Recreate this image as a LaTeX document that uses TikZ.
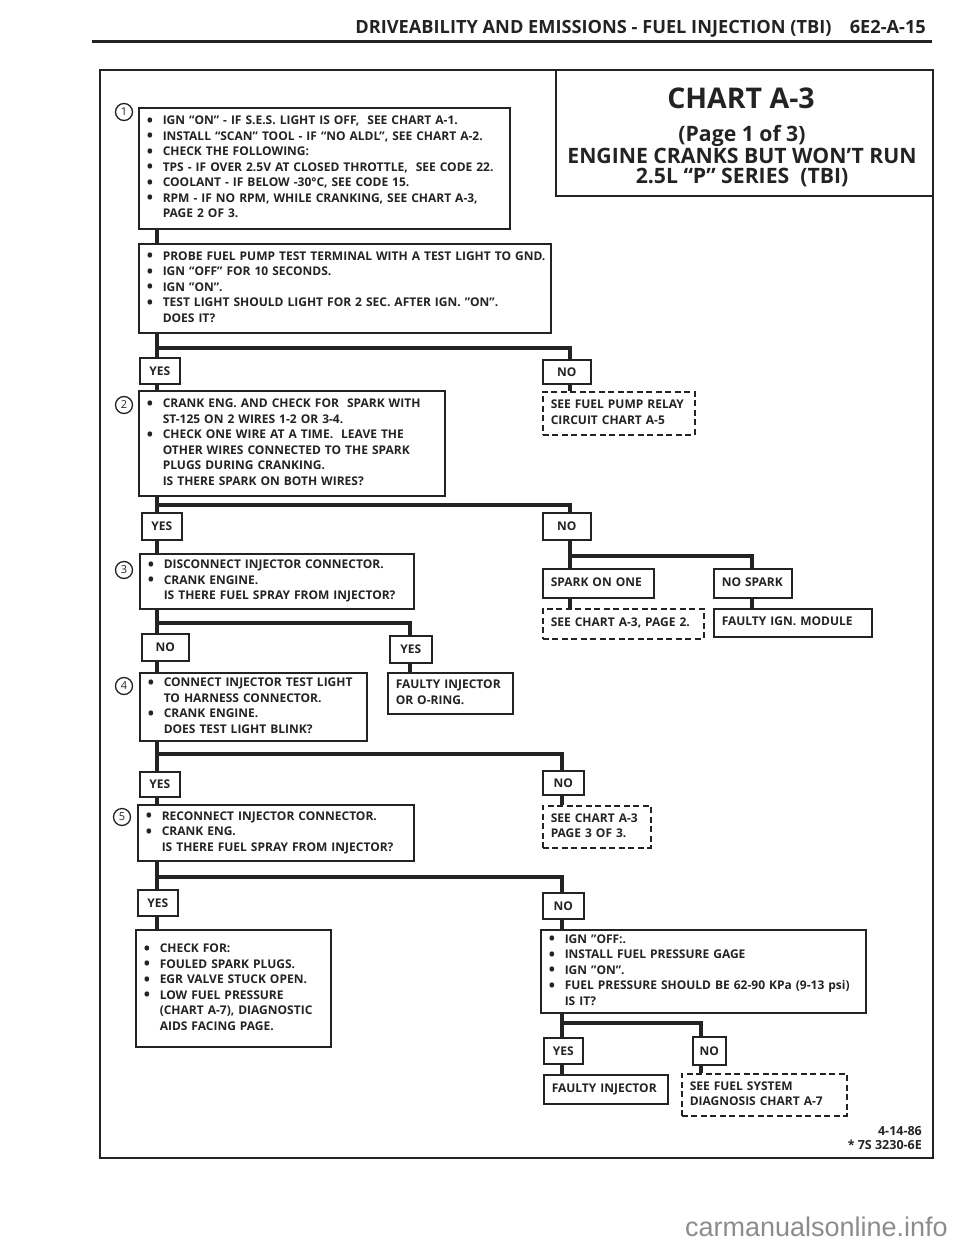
\documentclass[tikz,border=0pt]{standalone}
\usepackage{fontspec}
\setmainfont{Open Sans}
\newfontfamily\markfont{Liberation Sans}
\usetikzlibrary{positioning}
\definecolor{ink}{HTML}{232323}
\definecolor{mark}{HTML}{8C8C8C}
\newcommand{\boxfont}{\fontsize{12}{15.5}\selectfont\bfseries}
\newcommand{\itemdot}{\makebox[16pt][l]{\raisebox{-1.4pt}{\fontsize{16.5}{0}\selectfont\textbullet}}}
\newcommand{\itemgap}{\hspace*{16pt}}
\newcommand{\rows}[1]{\begin{tabular}{@{}l@{}}#1\end{tabular}}

\begin{document}
\begin{tikzpicture}[x=1pt, y=-1pt, color=ink,
  box/.style={draw, line width=1.5pt, anchor=north west, inner xsep=8pt,
              inner ysep=1pt, align=left, font=\boxfont},
  ref/.style={box, dash pattern=on 6pt off 3.5pt},
  tag/.style={draw, line width=1.5pt, anchor=north west, inner sep=0pt,
              font=\boxfont},
  num/.style={draw, circle, line width=1.3pt, inner sep=0pt,
              minimum size=17pt, font=\fontsize{11}{11}\selectfont},
  wire/.style={line width=4pt}
]
  \useasboundingbox (0,0) rectangle (960,1242);

  % Page header
  \node[anchor=east, inner sep=0pt, font=\fontsize{18.2}{18}\selectfont\bfseries] (head) at (926,29)
    {DRIVEABILITY AND EMISSIONS - FUEL INJECTION (TBI)\quad 6E2-A-15};
  \draw[line width=3pt] (92,41) -- (932,41);

  % Frame and title block
  \draw[line width=2.6pt] (100,70) rectangle (933,1158);
  \draw[line width=1.6pt] (556,70) |- (933,196);
  \node[inner sep=0pt, font=\fontsize{28.5}{28}\selectfont\bfseries] (chart) at (741,98) {CHART A-3};
  \node[inner sep=0pt, align=center, font=\fontsize{21.2}{20}\selectfont\bfseries] (subtitle) at (742,156)
    {(Page 1 of 3)\\ENGINE CRANKS BUT WON’T RUN\\2.5L “P” SERIES\ \ (TBI)};

  % Columns and branch levels
  \coordinate (colA) at (157,0);
  \coordinate (colB) at (570,0);
  \coordinate (colC) at (562,0);
  \coordinate (colD) at (410,0);
  \coordinate (colE) at (752,0);
  \coordinate (colF) at (701,0);
  \coordinate (bar1) at (0,348);
  \coordinate (bar2) at (0,505);
  \coordinate (bar3) at (0,556);
  \coordinate (bar4) at (0,623);
  \coordinate (bar5) at (0,754);
  \coordinate (bar6) at (0,877);
  \coordinate (bar7) at (0,1023);

  % Step 1
  \node[num] (n1) at (124,112) {1};
  \node[box, minimum width=371pt, minimum height=121pt, text width=355pt] (ign1) at (138,107)
    {\rows{\itemdot IGN “ON” - IF S.E.S. LIGHT IS OFF, \ SEE CHART A-1.\\
     \itemdot INSTALL “SCAN” TOOL - IF “NO ALDL”, SEE CHART A-2.\\
     \itemdot CHECK THE FOLLOWING:\\
     \itemdot TPS - IF OVER 2.5V AT CLOSED THROTTLE, \ SEE CODE 22.\\
     \itemdot COOLANT - IF BELOW -30°C, SEE CODE 15.\\
     \itemdot RPM - IF NO RPM, WHILE CRANKING, SEE CHART A-3,\\
     \itemgap PAGE 2 OF 3.}};
  \node[box, minimum width=412pt, minimum height=89pt, text width=396pt] (pump) at (138,243)
    {\rows{\itemdot PROBE FUEL PUMP TEST TERMINAL WITH A TEST LIGHT TO GND.\\
     \itemdot IGN “OFF” FOR 10 SECONDS.\\
     \itemdot IGN ”ON”.\\
     \itemdot TEST LIGHT SHOULD LIGHT FOR 2 SEC. AFTER IGN. ”ON”.\\
     \itemgap DOES IT?}};
  \node[tag, minimum width=40pt, minimum height=26pt] (yes1) at (139,357) {YES};
  \node[tag, minimum width=48pt, minimum height=24pt] (no1) at (542,359) {NO};
  \node[ref, minimum width=152pt, minimum height=43pt, text width=136pt] (relay) at (542,391)
    {\rows{SEE FUEL PUMP RELAY\\CIRCUIT CHART A-5}};

  \draw[wire] (ign1.south -| colA) -- (pump.north -| colA);
  \draw[wire] (pump.south -| colA) -- (yes1.north -| colA);
  \draw[wire] (bar1 -| colA) -| (no1.north -| colB);
  \draw[wire] (no1.south -| colB) -- (relay.north -| colB);

  % Step 2
  \node[num] (n2) at (124,405) {2};
  \node[box, minimum width=306pt, minimum height=105pt, text width=290pt] (spark) at (138,390)
    {\rows{\itemdot CRANK ENG. AND CHECK FOR \ SPARK WITH\\
     \itemgap ST-125 ON 2 WIRES 1-2 OR 3-4.\\
     \itemdot CHECK ONE WIRE AT A TIME. \ LEAVE THE\\
     \itemgap OTHER WIRES CONNECTED TO THE SPARK\\
     \itemgap PLUGS DURING CRANKING.\\
     \itemgap IS THERE SPARK ON BOTH WIRES?}};
  \node[tag, minimum width=40pt, minimum height=27pt] (yes2) at (141,512) {YES};
  \node[tag, minimum width=48pt, minimum height=27pt] (no2) at (542,512) {NO};
  \node[box, minimum width=111pt, minimum height=29pt, text width=95pt] (onespark) at (542,568)
    {\rows{SPARK ON ONE}};
  \node[box, minimum width=78pt, minimum height=29pt, text width=62pt] (nospark) at (713,568)
    {\rows{NO SPARK}};
  \node[ref, minimum width=161pt, minimum height=30pt, text width=145pt] (page2) at (542,608)
    {\rows{SEE CHART A-3, PAGE 2.}};
  \node[box, minimum width=158pt, minimum height=28pt, text width=142pt] (module) at (713,608)
    {\rows{FAULTY IGN. MODULE}};

  \draw[wire] (yes1.south -| colA) -- (spark.north -| colA);
  \draw[wire] (spark.south -| colA) -- (yes2.north -| colA);
  \draw[wire] (bar2 -| colA) -| (no2.north -| colB);
  \draw[wire] (no2.south -| colB) -- (onespark.north -| colB);
  \draw[wire] (bar3 -| colB) -| (nospark.north -| colE);
  \draw[wire] (onespark.south -| colB) -- (page2.north -| colB);
  \draw[wire] (nospark.south -| colE) -- (module.north -| colE);

  % Step 3
  \node[num] (n3) at (124,570) {3};
  \node[box, minimum width=274pt, minimum height=55pt, text width=258pt] (inj) at (139,553)
    {\rows{\itemdot DISCONNECT INJECTOR CONNECTOR.\\
     \itemdot CRANK ENGINE.\\
     \itemgap IS THERE FUEL SPRAY FROM INJECTOR?}};
  \node[tag, minimum width=47pt, minimum height=27pt] (no3) at (141,633) {NO};
  \node[tag, minimum width=42pt, minimum height=27pt] (yes3) at (389,635) {YES};
  \node[box, minimum width=125pt, minimum height=41pt, text width=109pt] (oring) at (387,672)
    {\rows{FAULTY INJECTOR\\OR O-RING.}};

  \draw[wire] (yes2.south -| colA) -- (inj.north -| colA);
  \draw[wire] (inj.south -| colA) -- (no3.north -| colA);
  \draw[wire] (bar4 -| colA) -| (yes3.north -| colD);
  \draw[wire] (yes3.south -| colD) -- (oring.north -| colD);

  % Step 4
  \node[num] (n4) at (124,686) {4};
  \node[box, minimum width=227pt, minimum height=68pt, text width=211pt] (light) at (139,672)
    {\rows{\itemdot CONNECT INJECTOR TEST LIGHT\\
     \itemgap TO HARNESS CONNECTOR.\\
     \itemdot CRANK ENGINE.\\
     \itemgap DOES TEST LIGHT BLINK?}};
  \node[tag, minimum width=40pt, minimum height=25pt] (yes4) at (139,771) {YES};
  \node[tag, minimum width=41pt, minimum height=24pt] (no4) at (542,770) {NO};
  \node[ref, minimum width=108pt, minimum height=42pt, text width=92pt] (page3) at (542,805)
    {\rows{SEE CHART A-3\\PAGE 3 OF 3.}};

  \draw[wire] (no3.south -| colA) -- (light.north -| colA);
  \draw[wire] (light.south -| colA) -- (yes4.north -| colA);
  \draw[wire] (bar5 -| colA) -| (no4.north -| colC);
  \draw[wire] (no4.south -| colC) -- (page3.north -| colC);

  % Step 5
  \node[num] (n5) at (122,817) {5};
  \node[box, minimum width=276pt, minimum height=56pt, text width=260pt] (recon) at (137,804)
    {\rows{\itemdot RECONNECT INJECTOR CONNECTOR.\\
     \itemdot CRANK ENG.\\
     \itemgap IS THERE FUEL SPRAY FROM INJECTOR?}};
  \node[tag, minimum width=40pt, minimum height=26pt] (yes5) at (137,889) {YES};
  \node[tag, minimum width=41pt, minimum height=26pt] (no5) at (542,892) {NO};
  \node[box, minimum width=195pt, minimum height=117pt, text width=179pt] (checks) at (135,929)
    {\rows{\itemdot CHECK FOR:\\
     \itemdot FOULED SPARK PLUGS.\\
     \itemdot EGR VALVE STUCK OPEN.\\
     \itemdot LOW FUEL PRESSURE\\
     \itemgap (CHART A-7), DIAGNOSTIC\\
     \itemgap AIDS FACING PAGE.}};
  \node[box, minimum width=325pt, minimum height=83pt, text width=309pt] (press) at (540,929)
    {\rows{\itemdot IGN ”OFF:.\\
     \itemdot INSTALL FUEL PRESSURE GAGE\\
     \itemdot IGN ”ON”.\\
     \itemdot FUEL PRESSURE SHOULD BE 62-90 KPa (9-13 psi)\\
     \itemgap IS IT?}};

  \draw[wire] (yes4.south -| colA) -- (recon.north -| colA);
  \draw[wire] (recon.south -| colA) -- (yes5.north -| colA);
  \draw[wire] (bar6 -| colA) -| (no5.north -| colC);
  \draw[wire] (yes5.south -| colA) -- (checks.north -| colA);
  \draw[wire] (no5.south -| colC) -- (press.north -| colC);

  % Fuel pressure branch
  \node[tag, minimum width=39pt, minimum height=26pt] (yes6) at (543,1037) {YES};
  \node[tag, minimum width=33pt, minimum height=28pt] (no6) at (692,1036) {NO};
  \node[box, minimum width=124pt, minimum height=29pt, text width=108pt] (faulty) at (543,1074)
    {\rows{FAULTY INJECTOR}};
  \node[ref, minimum width=165pt, minimum height=42pt, text width=149pt] (fuelsys) at (681,1073)
    {\rows{SEE FUEL SYSTEM\\DIAGNOSIS CHART A-7}};

  \draw[wire] (press.south -| colC) -- (yes6.north -| colC);
  \draw[wire] (bar7 -| colC) -| (no6.north -| colF);
  \draw[wire] (yes6.south -| colC) -- (faulty.north -| colC);
  \draw[wire] (no6.south -| colF) -- (fuelsys.north -| colF);

  % Footer
  \node[anchor=east, inner sep=0pt, align=right, font=\fontsize{12.5}{14.5}\selectfont\bfseries] (date) at (922,1138)
    {4-14-86\\* 7S 3230-6E};
  \node[anchor=east, inner sep=0pt, text=mark, font=\markfont\fontsize{27}{27}\selectfont] (site) at (948,1227)
    {carmanualsonline.info};
\end{tikzpicture}
\end{document}
